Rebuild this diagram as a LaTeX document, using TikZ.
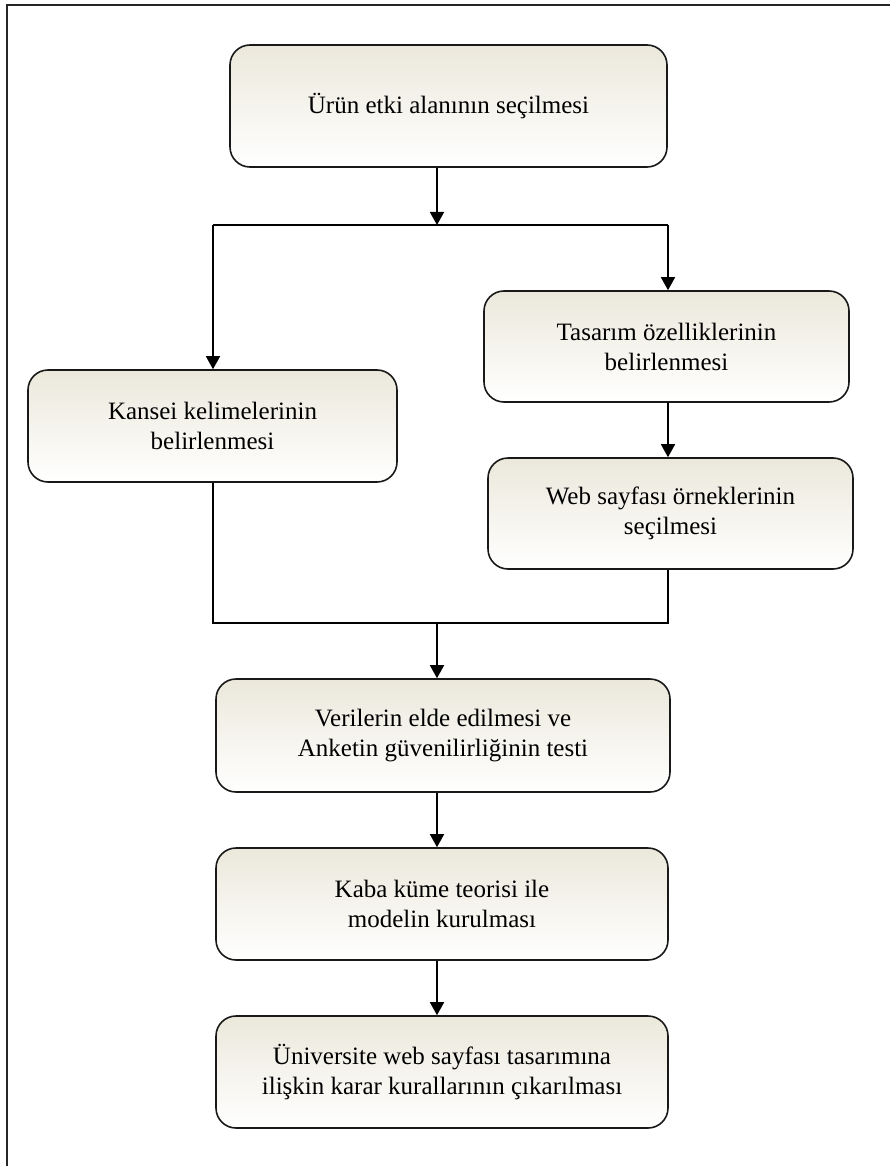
\documentclass[tikz,border=0pt]{standalone}
\usepackage{fontspec}
\setmainfont{Liberation Serif}
\usetikzlibrary{arrows.meta}
\definecolor{boxtop}{RGB}{235,232,219}
\definecolor{boxline}{RGB}{25,25,25}
\tikzset{
  flowbox/.style={draw=boxline, line width=1.6pt, rounded corners=20pt,
    top color=boxtop, bottom color=white, align=center,
    font=\fontsize{25}{30}\selectfont, inner sep=0pt},
  conn/.style={line width=1.6pt, draw=black},
  arr/.style={conn, -{Triangle[length=13pt,width=14pt]}}
}
\begin{document}
\begin{tikzpicture}[x=1pt,y=-1pt]
\useasboundingbox (0,0) rectangle (890,1166);
\draw[line width=2pt, draw=black!85] (7,1166) -- (7,5) -- (890,5);

\node[flowbox, minimum width=437pt, minimum height=122pt] (top) at (448.5,106) {Ürün etki alanının seçilmesi};
\node[flowbox, minimum width=365pt, minimum height=111pt] (tas) at (666.5,346.5) {Tasarım özelliklerinin\\belirlenmesi};
\node[flowbox, minimum width=369pt, minimum height=112pt] (kan) at (212.5,426) {Kansei kelimelerinin\\belirlenmesi};
\node[flowbox, minimum width=365pt, minimum height=111pt] (web) at (670.5,513.5) {Web sayfası örneklerinin\\seçilmesi};
\node[flowbox, minimum width=454pt, minimum height=113pt] (ver) at (443,735.5) {Verilerin elde edilmesi ve\\Anketin güvenilirliğinin testi};
\node[flowbox, minimum width=452pt, minimum height=112pt] (kaba) at (442,904) {Kaba küme teorisi ile\\modelin kurulması};
\node[flowbox, minimum width=452pt, minimum height=112pt] (univ) at (442,1072) {Üniversite web sayfası tasarımına\\ilişkin karar kurallarının çıkarılması};

\coordinate (j1) at (437,225);
\coordinate (jl) at (213,225);
\coordinate (jr) at (668,225);
\coordinate (bl) at (213,623);
\coordinate (br) at (668,623);
\coordinate (bm) at (437,623);

\draw[arr] (top.south -| j1) -- (j1);
\draw[conn] (jl) -- (jr);
\draw[arr] (jl) -- (kan.north -| jl);
\draw[arr] (jr) -- (tas.north -| jr);
\draw[arr] (tas.south -| jr) -- (web.north -| jr);
\draw[conn] (kan.south -| bl) -- (bl) -- (br) -- (web.south -| br);
\draw[arr] (bm) -- (ver.north -| bm);
\draw[arr] (ver.south -| bm) -- (kaba.north -| bm);
\draw[arr] (kaba.south -| bm) -- (univ.north -| bm);
\end{tikzpicture}
\end{document}
